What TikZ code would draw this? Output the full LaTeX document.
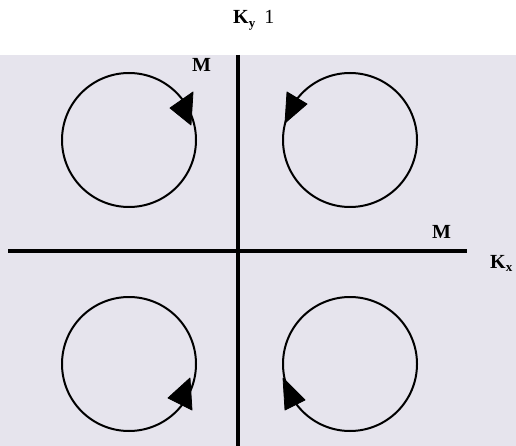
\documentclass[tikz,border=0pt]{standalone}
\usepackage{fontspec}
\setmainfont{Liberation Serif}
\begin{document}
\begin{tikzpicture}[x=1pt,y=-1pt,
  axis/.style={line width=3.8pt,black},
  orbit/.style={line width=2pt,black},
  head/.style={fill=black,draw=black,line width=0.8pt,line join=round},
  lbl/.style={anchor=base west,inner sep=0pt,font=\fontsize{20}{22}\selectfont\bfseries}]
\useasboundingbox (0,0) rectangle (516,446);
\fill[fill={rgb,255:red,230;green,228;blue,237}] (0,55) rectangle (516,446);
% axes
\coordinate (vt) at (238,55);
\coordinate (vb) at (238,446);
\coordinate (hl) at (8,251);
\coordinate (hr) at (467,251);
\draw[axis] (vt) -- (vb);
\draw[axis] (hl) -- (hr);
% circles
\coordinate (c1) at (129,140);
\coordinate (c2) at (350,140);
\coordinate (c3) at (129,364);
\coordinate (c4) at (350,364);
\foreach \c in {c1,c2,c3,c4} \draw[orbit] (\c) circle[radius=67];
% arrowheads
\fill[head] (193,92) -- (170,108) -- (191,125) -- cycle;
\fill[head] (287,92) -- (307,104) -- (285,123) -- cycle;
\fill[head] (190,378) -- (168,398) -- (192,410) -- cycle;
\fill[head] (283,378) -- (305,400) -- (285,410) -- cycle;
% labels
\node[lbl] (ky) at (233,24) {K\raisebox{-0.4ex}{\fontsize{13}{14}\selectfont y}\hspace{0.45em}\mdseries 1};
\node[lbl] (m1) at (192,72) {M};
\node[lbl] (m2) at (432,238) {M};
\node[lbl] (kx) at (490,268) {K\raisebox{-0.4ex}{\fontsize{13}{14}\selectfont x}};
\end{tikzpicture}
\end{document}
